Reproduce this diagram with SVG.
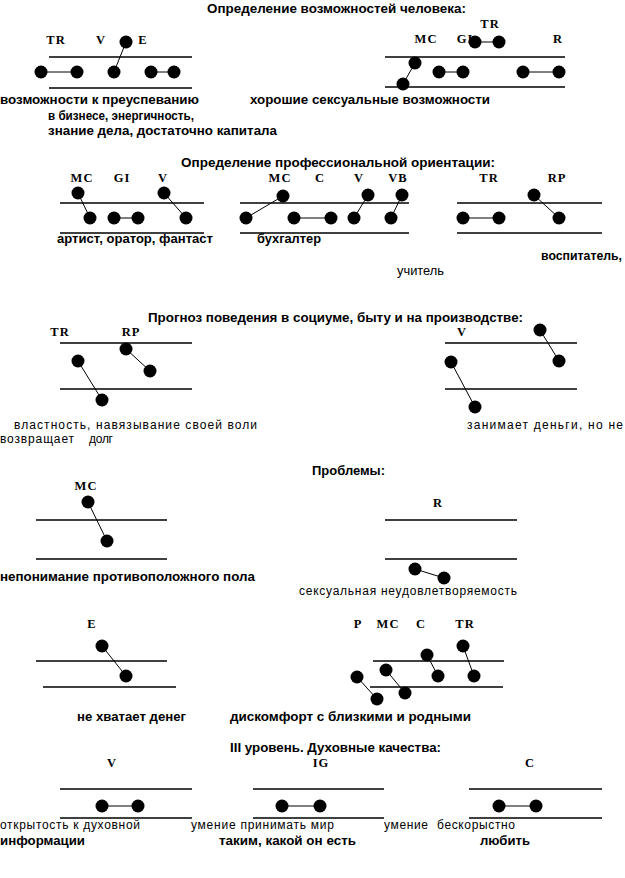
<svg xmlns="http://www.w3.org/2000/svg" width="625" height="878" viewBox="0 0 625 878">
<style>
.rule{stroke:#000;stroke-width:1.3;fill:none}
.conn{stroke:#000;stroke-width:1;fill:none}
.dot{fill:#000}
.lbl{font-family:"Liberation Serif",serif;font-weight:bold;font-size:12.5px;text-anchor:middle;letter-spacing:1px;fill:#000}
.cap{font-family:"Liberation Sans",sans-serif;font-weight:bold;font-size:12px;fill:#000}
.capn{font-family:"Liberation Sans",sans-serif;font-size:12px;fill:#000}
</style>
<rect width="625" height="878" fill="#fff"/>

<!-- Titles and captions -->
<g id="texts">
<text class="cap" x="207" y="13" textLength="259" lengthAdjust="spacingAndGlyphs">Определение возможностей человека:</text>
<text class="cap" x="0" y="104" textLength="199" lengthAdjust="spacingAndGlyphs">возможности к преуспеванию</text>
<text class="cap" x="48" y="120" textLength="146" lengthAdjust="spacingAndGlyphs">в бизнесе, энергичность,</text>
<text class="cap" x="48" y="135" textLength="229" lengthAdjust="spacingAndGlyphs">знание дела, достаточно капитала</text>
<text class="cap" x="250" y="104" textLength="240" lengthAdjust="spacingAndGlyphs">хорошие сексуальные возможности</text>

<text class="cap" x="181" y="167" textLength="314" lengthAdjust="spacingAndGlyphs">Определение профессиональной ориентации:</text>
<text class="cap" x="57" y="243" textLength="156" lengthAdjust="spacingAndGlyphs">артист, оратор, фантаст</text>
<text class="cap" x="257" y="243" textLength="64" lengthAdjust="spacingAndGlyphs">бухгалтер</text>
<text class="cap" x="541" y="260" textLength="81" lengthAdjust="spacingAndGlyphs">воспитатель,</text>
<text class="capn" x="397" y="275" textLength="47" lengthAdjust="spacingAndGlyphs">учитель</text>

<text class="cap" x="148" y="322" textLength="375" lengthAdjust="spacingAndGlyphs">Прогноз поведения в социуме, быту и на производстве:</text>
<text class="capn" x="14" y="429" textLength="243" lengthAdjust="spacing">властность, навязывание своей воли</text>
<text class="capn" y="443"><tspan x="0" textLength="74" lengthAdjust="spacing">возвращает</tspan><tspan x="89" textLength="24" lengthAdjust="spacing">долг</tspan></text>
<text class="capn" x="467" y="429" textLength="156" lengthAdjust="spacing">занимает деньги, но не</text>

<text class="cap" x="312" y="475" textLength="73" lengthAdjust="spacingAndGlyphs">Проблемы:</text>
<text class="cap" x="0" y="581" textLength="255" lengthAdjust="spacingAndGlyphs">непонимание противоположного пола</text>
<text class="capn" x="299" y="595" textLength="218" lengthAdjust="spacing">сексуальная неудовлетворяемость</text>
<text class="cap" x="77" y="721" textLength="109" lengthAdjust="spacingAndGlyphs">не хватает денег</text>
<text class="cap" x="230" y="721" textLength="241" lengthAdjust="spacingAndGlyphs">дискомфорт с близкими и родными</text>

<text class="cap" x="230" y="752" textLength="211" lengthAdjust="spacingAndGlyphs">III уровень. Духовные качества:</text>
<text class="capn" x="0" y="829" textLength="140" lengthAdjust="spacing">открытость к духовной</text>
<text class="cap" x="0" y="845" textLength="85" lengthAdjust="spacingAndGlyphs">информации</text>
<text class="capn" x="191" y="829" textLength="143" lengthAdjust="spacing">умение принимать мир</text>
<text class="cap" x="219" y="845" textLength="137" lengthAdjust="spacingAndGlyphs">таким, какой он есть</text>
<text class="capn" y="829"><tspan x="384" textLength="44" lengthAdjust="spacing">умение</tspan><tspan x="437" textLength="78" lengthAdjust="spacing">бескорыстно</tspan></text>
<text class="cap" x="480" y="845" textLength="50" lengthAdjust="spacingAndGlyphs">любить</text>
</g>

<!-- Connectors -->
<g id="connectors" class="conn">
<line x1="41" y1="72" x2="77" y2="72"/>
<line x1="114" y1="72" x2="126" y2="42"/>
<line x1="151" y1="72" x2="174" y2="72"/>
<line x1="415" y1="63" x2="403" y2="84"/>
<line x1="439" y1="72" x2="463" y2="72"/>
<line x1="523" y1="72" x2="559" y2="72"/>
<line x1="475" y1="42" x2="499" y2="42"/>

<line x1="78" y1="193" x2="90" y2="218"/>
<line x1="114" y1="218" x2="138" y2="218"/>
<line x1="164" y1="193" x2="186" y2="218"/>
<line x1="283" y1="196" x2="246" y2="218"/>
<line x1="294" y1="218" x2="331" y2="218"/>
<line x1="368" y1="195" x2="354" y2="218"/>
<line x1="402" y1="195" x2="391" y2="218"/>
<line x1="463" y1="218" x2="499" y2="218"/>
<line x1="534" y1="195" x2="559" y2="218"/>

<line x1="78" y1="361" x2="102" y2="400"/>
<line x1="126" y1="349" x2="150" y2="371"/>
<line x1="451" y1="362" x2="475" y2="407"/>
<line x1="540" y1="330" x2="559" y2="361"/>

<line x1="88" y1="502" x2="107" y2="541"/>
<line x1="415" y1="569" x2="444" y2="578"/>
<line x1="102" y1="646" x2="126" y2="676"/>
<line x1="357" y1="677" x2="377" y2="699"/>
<line x1="386" y1="670" x2="405" y2="693"/>
<line x1="427" y1="655" x2="438" y2="676"/>
<line x1="463" y1="646" x2="474" y2="676"/>

<line x1="102" y1="806" x2="138" y2="806"/>
<line x1="282" y1="806" x2="320" y2="806"/>
<line x1="499" y1="806" x2="536" y2="806"/>
</g>

<g id="d1-left">
<line class="rule" x1="49" y1="57" x2="192" y2="57"/>
<line class="rule" x1="49" y1="88" x2="192" y2="88"/>
<text class="lbl" x="56" y="44">TR</text>
<text class="lbl" x="101" y="44">V</text>
<text class="lbl" x="143" y="44">E</text>
<circle class="dot" cx="41" cy="72" r="6.5"/>
<circle class="dot" cx="77" cy="72" r="6.5"/>
<circle class="dot" cx="114" cy="72" r="6.5"/>
<circle class="dot" cx="151" cy="72" r="6.5"/>
<circle class="dot" cx="174" cy="72" r="6.5"/>
<circle class="dot" cx="126" cy="42" r="6.5"/>
</g>

<g id="d1-right">
<line class="rule" x1="385" y1="57" x2="565" y2="57"/>
<line class="rule" x1="385" y1="87" x2="565" y2="87"/>
<text class="lbl" x="490" y="28">TR</text>
<text class="lbl" x="426" y="43">MC</text>
<text class="lbl" x="465" y="43">GI</text>
<text class="lbl" x="558" y="43">R</text>
<circle class="dot" cx="415" cy="63" r="6.5"/>
<circle class="dot" cx="403" cy="84" r="6.5"/>
<circle class="dot" cx="439" cy="72" r="6.5"/>
<circle class="dot" cx="463" cy="72" r="6.5"/>
<circle class="dot" cx="523" cy="72" r="6.5"/>
<circle class="dot" cx="559" cy="72" r="6.5"/>
<circle class="dot" cx="475" cy="42" r="6.5"/>
<circle class="dot" cx="499" cy="42" r="6.5"/>
</g>

<g id="d2-left">
<line class="rule" x1="60" y1="203" x2="204" y2="203"/>
<line class="rule" x1="60" y1="233" x2="204" y2="233"/>
<text class="lbl" x="82" y="182">MC</text>
<text class="lbl" x="122" y="182">GI</text>
<text class="lbl" x="163" y="182">V</text>
<circle class="dot" cx="78" cy="193" r="6.5"/>
<circle class="dot" cx="90" cy="218" r="6.5"/>
<circle class="dot" cx="114" cy="218" r="6.5"/>
<circle class="dot" cx="138" cy="218" r="6.5"/>
<circle class="dot" cx="164" cy="193" r="6.5"/>
<circle class="dot" cx="186" cy="218" r="6.5"/>
</g>

<g id="d2-mid">
<line class="rule" x1="240" y1="203" x2="409" y2="203"/>
<line class="rule" x1="240" y1="233" x2="409" y2="233"/>
<text class="lbl" x="280" y="182">MC</text>
<text class="lbl" x="320" y="182">C</text>
<text class="lbl" x="359" y="182">V</text>
<text class="lbl" x="398" y="182">VB</text>
<circle class="dot" cx="283" cy="196" r="6.5"/>
<circle class="dot" cx="246" cy="218" r="6.5"/>
<circle class="dot" cx="294" cy="218" r="6.5"/>
<circle class="dot" cx="331" cy="218" r="6.5"/>
<circle class="dot" cx="368" cy="195" r="6.5"/>
<circle class="dot" cx="354" cy="218" r="6.5"/>
<circle class="dot" cx="402" cy="195" r="6.5"/>
<circle class="dot" cx="391" cy="218" r="6.5"/>
</g>

<g id="d2-right">
<line class="rule" x1="457" y1="203" x2="602" y2="203"/>
<line class="rule" x1="457" y1="233" x2="602" y2="233"/>
<text class="lbl" x="489" y="182">TR</text>
<text class="lbl" x="557" y="182">RP</text>
<circle class="dot" cx="463" cy="218" r="6.5"/>
<circle class="dot" cx="499" cy="218" r="6.5"/>
<circle class="dot" cx="534" cy="195" r="6.5"/>
<circle class="dot" cx="559" cy="218" r="6.5"/>
</g>

<g id="d3-left">
<line class="rule" x1="60" y1="343" x2="192" y2="343"/>
<line class="rule" x1="60" y1="389" x2="192" y2="389"/>
<text class="lbl" x="60" y="336">TR</text>
<text class="lbl" x="131" y="336">RP</text>
<circle class="dot" cx="78" cy="361" r="6.5"/>
<circle class="dot" cx="102" cy="400" r="6.5"/>
<circle class="dot" cx="126" cy="349" r="6.5"/>
<circle class="dot" cx="150" cy="371" r="6.5"/>
</g>

<g id="d3-right">
<line class="rule" x1="445" y1="343" x2="577" y2="343"/>
<line class="rule" x1="445" y1="389" x2="577" y2="389"/>
<text class="lbl" x="462" y="336">V</text>
<circle class="dot" cx="451" cy="362" r="6.5"/>
<circle class="dot" cx="475" cy="407" r="6.5"/>
<circle class="dot" cx="540" cy="330" r="6.5"/>
<circle class="dot" cx="559" cy="361" r="6.5"/>
</g>

<g id="d4-mc">
<line class="rule" x1="36" y1="520" x2="167" y2="520"/>
<line class="rule" x1="36" y1="559" x2="167" y2="559"/>
<text class="lbl" x="86" y="490">MC</text>
<circle class="dot" cx="88" cy="502" r="6.5"/>
<circle class="dot" cx="107" cy="541" r="6.5"/>
</g>

<g id="d4-r">
<line class="rule" x1="385" y1="520" x2="517" y2="520"/>
<line class="rule" x1="385" y1="559" x2="517" y2="559"/>
<text class="lbl" x="438" y="507">R</text>
<circle class="dot" cx="415" cy="569" r="6.5"/>
<circle class="dot" cx="444" cy="578" r="6.5"/>
</g>

<g id="d4-e">
<line class="rule" x1="36" y1="661" x2="167" y2="661"/>
<line class="rule" x1="43" y1="687" x2="176" y2="687"/>
<text class="lbl" x="92" y="628">E</text>
<circle class="dot" cx="102" cy="646" r="6.5"/>
<circle class="dot" cx="126" cy="676" r="6.5"/>
</g>

<g id="d4-family">
<line class="rule" x1="373" y1="661" x2="504" y2="661"/>
<line class="rule" x1="370" y1="687" x2="503" y2="687"/>
<text class="lbl" x="358" y="628">P</text>
<text class="lbl" x="388" y="628">MC</text>
<text class="lbl" x="421" y="628">C</text>
<text class="lbl" x="465" y="628">TR</text>
<circle class="dot" cx="357" cy="677" r="6.5"/>
<circle class="dot" cx="377" cy="699" r="6.5"/>
<circle class="dot" cx="386" cy="670" r="6.5"/>
<circle class="dot" cx="405" cy="693" r="6.5"/>
<circle class="dot" cx="427" cy="655" r="6.5"/>
<circle class="dot" cx="438" cy="676" r="6.5"/>
<circle class="dot" cx="463" cy="646" r="6.5"/>
<circle class="dot" cx="474" cy="676" r="6.5"/>
</g>

<g id="d5-v">
<line class="rule" x1="60" y1="789" x2="192" y2="789"/>
<line class="rule" x1="60" y1="818" x2="192" y2="818"/>
<text class="lbl" x="112" y="767">V</text>
<circle class="dot" cx="102" cy="806" r="6.5"/>
<circle class="dot" cx="138" cy="806" r="6.5"/>
</g>

<g id="d5-ig">
<line class="rule" x1="253" y1="789" x2="384" y2="789"/>
<line class="rule" x1="253" y1="818" x2="384" y2="818"/>
<text class="lbl" x="321" y="767">IG</text>
<circle class="dot" cx="282" cy="806" r="6.5"/>
<circle class="dot" cx="320" cy="806" r="6.5"/>
</g>

<g id="d5-c">
<line class="rule" x1="469" y1="789" x2="602" y2="789"/>
<line class="rule" x1="469" y1="818" x2="602" y2="818"/>
<text class="lbl" x="530" y="767">C</text>
<circle class="dot" cx="499" cy="806" r="6.5"/>
<circle class="dot" cx="536" cy="806" r="6.5"/>
</g>
</svg>
